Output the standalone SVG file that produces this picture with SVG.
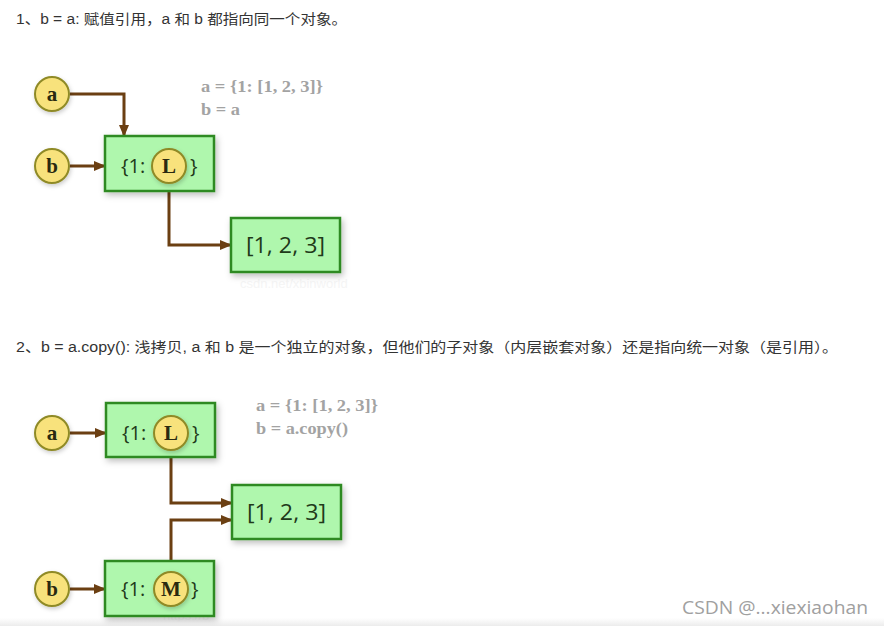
<svg xmlns="http://www.w3.org/2000/svg" width="884" height="626" viewBox="0 0 884 626">
<defs>
<style>
.head{font-family:"Liberation Sans","Noto Sans CJK SC",sans-serif;font-size:14px;fill:#333}
.box{fill:#aff7ad;stroke:#2f8a22;stroke-width:2.5}
.circ{fill:#f8e27c;stroke:#8f8a26;stroke-width:2}
.lt{font-family:"Liberation Serif",serif;font-weight:bold;font-size:21px;fill:#2a2a10;text-anchor:middle}
.bt{font-family:"Open Sans","Noto Sans",sans-serif;font-size:20px;fill:#1f3a1a}
.lst{font-family:"Open Sans","Noto Sans",sans-serif;font-size:22px;fill:#1f3a1a}
.code{font-family:"Liberation Serif",serif;font-weight:bold;font-size:17px;fill:#a3a3a3}
.conn{fill:none;stroke:#6b3f12;stroke-width:3;marker-end:url(#arr)}
.wm{font-family:"Liberation Sans",sans-serif;font-size:13px;fill:#f5f5f5}
</style>
<marker id="arr" markerWidth="12" markerHeight="10" refX="11" refY="5" orient="auto" markerUnits="userSpaceOnUse">
<path d="M0,0 L12,5 L0,10 Z" fill="#6b3f12"/>
</marker>
<filter id="sh" x="-30%" y="-30%" width="160%" height="160%">
<feDropShadow dx="2" dy="3" stdDeviation="3" flood-color="#000" flood-opacity="0.25"/>
</filter>
<filter id="csh" x="-50%" y="-50%" width="200%" height="200%">
<feDropShadow dx="1" dy="2" stdDeviation="2" flood-color="#000" flood-opacity="0.2"/>
</filter>
<linearGradient id="bot" x1="0" y1="0" x2="0" y2="1">
<stop offset="0" stop-color="#ffffff"/>
<stop offset="1" stop-color="#ececec"/>
</linearGradient>
</defs>
<rect width="884" height="626" fill="#fff"/>
<rect x="0" y="618" width="884" height="8" fill="url(#bot)"/>

<text class="head" x="16" y="24" textLength="331" lengthAdjust="spacingAndGlyphs">1、b = a: 赋值引用，a 和 b 都指向同一个对象。</text>
<text class="head" x="16" y="352" textLength="822" lengthAdjust="spacingAndGlyphs">2、b = a.copy(): 浅拷贝, a 和 b 是一个独立的对象，但他们的子对象（内层嵌套对象）还是指向统一对象（是引用）。</text>

<text class="wm" x="240" y="288">csdn.net/xbinworld</text>
<text class="wm" x="163" y="620" font-size="10">https://b</text>

<g id="connectors">
<path class="conn" d="M70,94 H124 V136"/>
<path class="conn" d="M70,166 H105"/>
<path class="conn" d="M169,183 V245 H231"/>
<path class="conn" d="M70,433 H106"/>
<path class="conn" d="M171,450 V503 H232"/>
<path class="conn" d="M171,572 V520 H232"/>
<path class="conn" d="M70,589 H105"/>
</g>

<g id="d1-code">
<text class="code" x="201" y="92" textLength="122" lengthAdjust="spacingAndGlyphs">a = {1: [1, 2, 3]}</text>
<text class="code" x="201" y="115" textLength="39" lengthAdjust="spacingAndGlyphs">b = a</text>
</g>
<g id="d1-a"><circle class="circ" cx="52" cy="94" r="17" filter="url(#csh)"/><text class="lt" x="52" y="101">a</text></g>
<g id="d1-b"><circle class="circ" cx="52" cy="166" r="17" filter="url(#csh)"/><text class="lt" x="52" y="173">b</text></g>
<g id="d1-dict">
<rect class="box" x="105" y="136" width="109" height="55" filter="url(#sh)"/>
<text class="bt" x="121" y="173">{1:</text>
<text class="bt" x="190" y="173">}</text>
<circle class="circ" cx="169" cy="166" r="17" filter="url(#csh)"/><text class="lt" x="169" y="173">L</text>
</g>
<g id="d1-list">
<rect class="box" x="231" y="218" width="109" height="54" filter="url(#sh)"/>
<text class="lst" x="246" y="253" textLength="79" lengthAdjust="spacingAndGlyphs">[1, 2, 3]</text>
</g>

<g id="d2-code">
<text class="code" x="256" y="411" textLength="122" lengthAdjust="spacingAndGlyphs">a = {1: [1, 2, 3]}</text>
<text class="code" x="256" y="434" textLength="92" lengthAdjust="spacingAndGlyphs">b = a.copy()</text>
</g>
<g id="d2-a"><circle class="circ" cx="52" cy="433" r="17" filter="url(#csh)"/><text class="lt" x="52" y="440">a</text></g>
<g id="d2-dict1">
<rect class="box" x="106" y="403" width="109" height="54" filter="url(#sh)"/>
<text class="bt" x="122" y="440">{1:</text>
<text class="bt" x="192" y="440">}</text>
<circle class="circ" cx="171" cy="433" r="17" filter="url(#csh)"/><text class="lt" x="171" y="440">L</text>
</g>
<g id="d2-list">
<rect class="box" x="232" y="485" width="109" height="54" filter="url(#sh)"/>
<text class="lst" x="247" y="520" textLength="79" lengthAdjust="spacingAndGlyphs">[1, 2, 3]</text>
</g>
<g id="d2-b"><circle class="circ" cx="52" cy="589" r="17" filter="url(#csh)"/><text class="lt" x="52" y="596">b</text></g>
<g id="d2-dict2">
<rect class="box" x="105" y="561" width="109" height="55" filter="url(#sh)"/>
<text class="bt" x="121" y="596">{1:</text>
<text class="bt" x="191" y="596">}</text>
<circle class="circ" cx="171" cy="589" r="17" filter="url(#csh)"/><text class="lt" x="171" y="596">M</text>
</g>

<text x="682" y="614" font-family="Open Sans, Noto Sans, sans-serif" font-size="18" fill="#a0a0a0" textLength="186" lengthAdjust="spacingAndGlyphs">CSDN @...xiexiaohan</text>
</svg>
